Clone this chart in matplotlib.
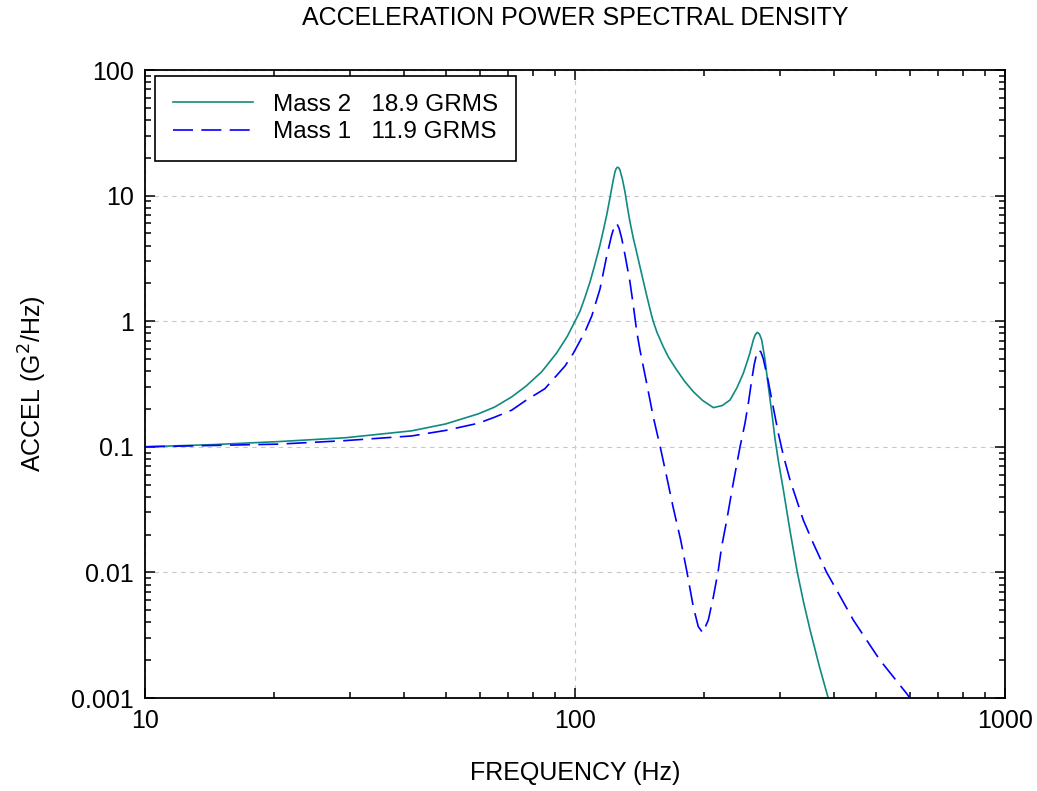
import matplotlib
matplotlib.use('Agg')
import matplotlib.pyplot as plt
from matplotlib.ticker import LogLocator, FuncFormatter, NullFormatter

plt.rcParams['font.family'] = ['Liberation Sans', 'DejaVu Sans']

# values (frequency in Hz, PSD in G^2/Hz)
freq_m2 = [10, 14.3, 20.4, 29.2, 41.7, 50, 59.6, 65, 71.3, 77, 83.7, 90.7, 96,
           100, 102.7, 105.5, 108.4, 111.3, 114.3, 116.4, 118.5, 120.1, 121.7,
           122.8, 123.9, 124.7, 125.4, 126.3, 127.2, 128.9, 130.7, 132.4,
           134.2, 136.6, 139.2, 141.6, 143, 146.8, 150.8, 152, 155, 160.4, 165,
           172.4, 180, 188.4, 198, 209.8, 220, 229.4, 238, 246.3, 250.7, 255,
           259.8, 262.5, 265.5, 268.5, 271.8, 276.7, 281.6, 286.7, 291.8,
           297, 305.1, 316, 328.9, 340, 352, 370, 388]
psd_m2 = [0.100, 0.104, 0.110, 0.118, 0.134, 0.152, 0.183, 0.207, 0.25, 0.305,
          0.396, 0.56, 0.76, 1.0, 1.2, 1.55, 2.06, 2.85, 4.04, 5.3, 7.0, 8.9,
          11.4, 13.4, 15.5, 16.4, 16.8, 16.7, 16.0, 13.5, 10.7, 8.1,
          6.2, 4.6, 3.5, 2.72, 2.35, 1.6, 1.1, 1.0, 0.82, 0.627, 0.516,
          0.409, 0.331, 0.275, 0.234, 0.205, 0.213, 0.236, 0.295, 0.385, 0.462,
          0.555, 0.708, 0.78, 0.816, 0.79, 0.708, 0.491, 0.301, 0.19, 0.116,
          0.078, 0.0457, 0.0218, 0.01, 0.0058, 0.0035, 0.00179, 0.001]

freq_m1 = [10, 20.4, 29.2, 41.7, 50, 59.6, 65, 71.3, 77, 85.1, 94.8, 99.1,
           105.5, 109.4, 114.3, 118.5, 121.7, 123.3, 125.0, 126.6, 128.4,
           130.7, 134.2, 136.6, 139.2, 141.6, 146.8, 152, 157.8, 163, 169,
           176.1, 182.2, 188.4, 193.5, 198.2, 204.2, 209.8, 215.4, 219.3,
           225.4, 233, 242, 248.5, 253, 257.6, 261, 264.6, 267, 270.5, 274.2,
           281.6, 289.2, 297.1, 305, 316.2, 339.6, 358.3, 384.8, 410, 443.8,
           475, 511.5, 590, 601]
psd_m1 = [0.100, 0.105, 0.112, 0.122, 0.135, 0.154, 0.172, 0.196, 0.235, 0.29,
          0.44, 0.555, 0.825, 1.1, 1.8, 3.3, 4.86, 5.6, 6.02, 5.5, 4.57,
          3.37, 2.06, 1.35, 0.825, 0.59, 0.32, 0.174, 0.1, 0.06, 0.0334,
          0.0181, 0.01, 0.00533, 0.0037, 0.00331, 0.00418, 0.0064, 0.0104, 0.016,
          0.0261, 0.05, 0.1, 0.154, 0.222, 0.34, 0.45, 0.55, 0.59, 0.57, 0.50,
          0.33, 0.205, 0.128, 0.086, 0.0545, 0.0261, 0.017, 0.01, 0.0068,
          0.00418, 0.00294, 0.00201, 0.00109, 0.001]

labels = ['Mass 2   18.9 GRMS', 'Mass 1   11.9 GRMS']

fig = plt.figure(figsize=(10.37, 7.91), dpi=100)
ax = fig.add_axes([145/1037, 1-698/791, 860/1037, 628/791])

ax.plot(freq_m2, psd_m2, color='#108a80', lw=1.2, label=labels[0])
ax.plot(freq_m1, psd_m1, color='blue', lw=1.2, dashes=(12, 5), label=labels[1])

ax.set_xscale('log')
ax.set_yscale('log')
ax.set_xlim(10, 1000)
ax.set_ylim(0.001, 100)

fmt = FuncFormatter(lambda v, p: '%g' % v)
ax.xaxis.set_major_formatter(fmt)
ax.yaxis.set_major_formatter(fmt)
ax.xaxis.set_minor_formatter(NullFormatter())
ax.yaxis.set_minor_formatter(NullFormatter())
ax.xaxis.set_minor_locator(LogLocator(base=10, subs=range(2, 10)))
ax.yaxis.set_minor_locator(LogLocator(base=10, subs=range(2, 10)))

ax.tick_params(which='both', direction='in', top=True, right=True,
               labelsize=18, width=1.1)
ax.tick_params(which='major', length=7, pad=8)
ax.tick_params(which='minor', length=4)
for s in ax.spines.values():
    s.set_linewidth(1.3)

ax.grid(True, which='major', color='#c8c8c8', ls=(0, (4, 4)), lw=0.8)

ax.set_xlabel('FREQUENCY (Hz)', fontsize=18, labelpad=20)
ax.set_ylabel('ACCEL (G$^2$/Hz)', fontsize=18, labelpad=16)
fig.text(575/1037, 1-18/791, 'ACCELERATION POWER SPECTRAL DENSITY',
         fontsize=18, ha='center', va='center')

leg = ax.legend(loc='upper left', bbox_to_anchor=(10/860, 1-6/628),
                borderaxespad=0, fontsize=17.5, handlelength=3.3,
                handletextpad=0.85, labelspacing=0.24, borderpad=0.72,
                fancybox=False, framealpha=1)
leg.get_frame().set_edgecolor('black')
leg.get_frame().set_linewidth(1.2)

fig.savefig('out.png', dpi=100)
